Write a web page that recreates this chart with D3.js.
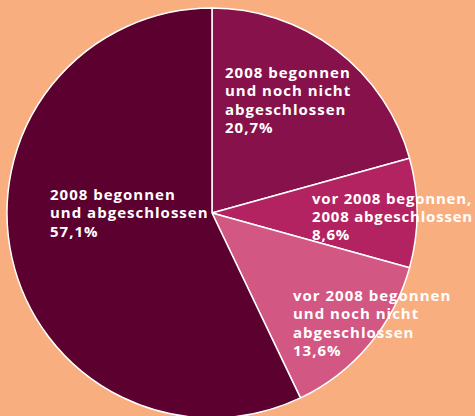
<!DOCTYPE html>
<html><head><meta charset="utf-8">
<script src="https://cdn.jsdelivr.net/npm/d3@7"></script>
<style>html,body{margin:0;padding:0;background:#F9AE80;}svg{display:block;}</style>
</head><body>
<svg id="c" width="475" height="416"></svg>
<script>
// data
const categories = [
  ["2008 begonnen", "und noch nicht", "abgeschlossen"],
  ["vor 2008 begonnen,", "2008 abgeschlossen"],
  ["vor 2008 begonnen", "und noch nicht", "abgeschlossen"],
  ["2008 begonnen", "und abgeschlossen"]
];
const values = [20.7, 8.6, 13.6, 57.1];
const valueLabels = ["20,7%", "8,6%", "13,6%", "57,1%"];
const colors = ["#87114A", "#B42361", "#D25782", "#5C0030"];

// layout (label anchor offsets relative to centre, in px)
const labelOffsets = [[13, -135], [100, -9.5], [81, 88], [-162, -13]];
const lineHeight = 18.3;
const W = 475, H = 416;

const svg = d3.select("#c");
const cx = 212, cy = 213, R = 205;
const g = svg.append("g").attr("transform", `translate(${cx},${cy})`);
const pie = d3.pie().sort(null).value(d => d)(values);
const arc = d3.arc().innerRadius(0).outerRadius(R);
g.selectAll("path").data(pie).join("path")
  .attr("d", arc).attr("fill", (d, i) => colors[i])
  .attr("stroke", "#fff").attr("stroke-width", 1.5).attr("stroke-linejoin", "round");

const lbl = g.selectAll("text.l").data(pie).join("text")
  .attr("class", "l")
  .attr("x", (d, i) => labelOffsets[i][0])
  .attr("y", (d, i) => labelOffsets[i][1])
  .attr("fill", "#fff")
  .attr("font-family", "'Open Sans', sans-serif")
  .attr("font-weight", 700)
  .attr("font-size", 15)
  .style("letter-spacing", "1px");
lbl.each(function(d, i) {
  const t = d3.select(this);
  const lines = categories[i].concat([valueLabels[i]]);
  lines.forEach((s, k) => {
    t.append("tspan").attr("x", labelOffsets[i][0]).attr("dy", k === 0 ? 0 : lineHeight).text(s);
  });
  // keep text inside the picture
  let ls = 1;
  const fits = () => {
    let maxW = 0;
    t.selectAll("tspan").each(function() { maxW = Math.max(maxW, this.getComputedTextLength()); });
    return cx + labelOffsets[i][0] + maxW <= W - 1;
  };
  while (!fits() && ls > 0) { ls -= 0.1; t.style("letter-spacing", ls.toFixed(2) + "px"); }
});
</script>
</body></html>
